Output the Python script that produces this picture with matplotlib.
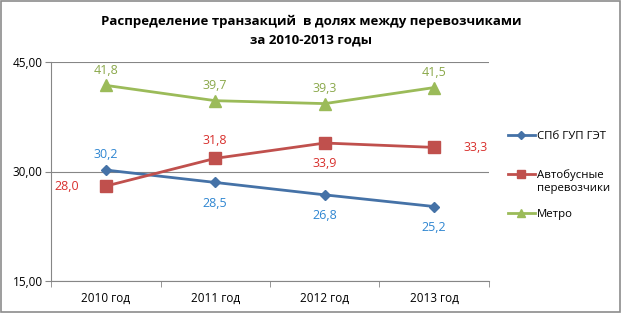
import matplotlib
matplotlib.use('Agg')
import matplotlib.pyplot as plt
from matplotlib.patches import Rectangle

plt.rcParams['font.family'] = ['Open Sans', 'DejaVu Sans']

# данные
years = ['2010 год', '2011 год', '2012 год', '2013 год']
spb_get = [30.2, 28.5, 26.8, 25.2]
avtobus = [28.0, 31.8, 33.9, 33.3]
metro = [41.8, 39.7, 39.3, 41.5]
y_ticks = [15, 30, 45]

fig = plt.figure(figsize=(6.22, 3.13), dpi=100)
ax = fig.add_axes([51 / 622, 1 - 281 / 313, 438 / 622, 219 / 313])

x = [i + 0.5 for i in range(len(years))]

ax.plot(x, spb_get, color='#4572A7', linewidth=2, marker='D', markersize=5.5, label='СПб ГУП ГЭТ', zorder=3)
ax.plot(x, avtobus, color='#C0504D', linewidth=2, marker='s', markersize=8, label='Автобусные', zorder=3)
ax.plot(x, metro, color='#9BBB59', linewidth=2, marker='^', markersize=8, label='Метро', zorder=3)

def fmt(v):
    return f'{v:.1f}'.replace('.', ',')

# подписи значений
blue_pos = [(0, 11), (0, -15), (0, -15), (0, -15)]
red_pos = [(-28, 0), (0, 13), (0, -15), (30, 0)]
for i, v in enumerate(spb_get):
    ax.annotate(fmt(v), (x[i], v), xytext=blue_pos[i], textcoords='offset points',
                ha='center', va='center', color='#2F86D1', fontsize=9)
for i, v in enumerate(avtobus):
    ax.annotate(fmt(v), (x[i], v), xytext=red_pos[i], textcoords='offset points',
                ha='center', va='center', color='#D8302D', fontsize=9)
for i, v in enumerate(metro):
    ax.annotate(fmt(v), (x[i], v), xytext=(0, 11), textcoords='offset points',
                ha='center', va='center', color='#8AA84A', fontsize=9)

ax.set_xlim(0, 4)
ax.set_ylim(15, 45)
ax.set_yticks(y_ticks)
ax.set_yticklabels([f'{t:.2f}'.replace('.', ',') for t in y_ticks], fontsize=8.5)
ax.set_xticks(x)
ax.set_xticklabels(years, fontsize=8.5)
ax.set_xticks(range(len(years) + 1), minor=True)
ax.tick_params(axis='x', which='major', length=0, pad=8)
ax.tick_params(axis='x', which='minor', length=4, color='#868686')
ax.tick_params(axis='y', length=4, color='#868686', pad=2)
ax.grid(axis='y', color='#868686', linewidth=0.8)
for s in ['top', 'right']:
    ax.spines[s].set_visible(False)
for s in ['left', 'bottom']:
    ax.spines[s].set_color('#868686')

fig.text(0.5, 1 - 21 / 313, 'Распределение транзакций  в долях между перевозчиками',
         ha='center', va='center', fontsize=9.5, fontweight='bold')
fig.text(0.5, 1 - 40 / 313, 'за 2010-2013 годы',
         ha='center', va='center', fontsize=9.5, fontweight='bold')

fig.legend(loc='upper left', bbox_to_anchor=(503 / 622, 1 - 126 / 313), frameon=False,
           fontsize=8.2, handlelength=2.4, handletextpad=0.2, labelspacing=2.45,
           markerscale=0.75, borderaxespad=0)
# вторая строка подписи автобусов
fig.text(537 / 622, 1 - 189 / 313, 'перевозчики', ha='left', va='center', fontsize=8.2)

fig.patches.append(Rectangle((0.002, 0.003), 0.995, 0.993, transform=fig.transFigure,
                             fill=False, edgecolor='#8c8c8c', linewidth=1.2))

fig.savefig('out.png', dpi=100)
